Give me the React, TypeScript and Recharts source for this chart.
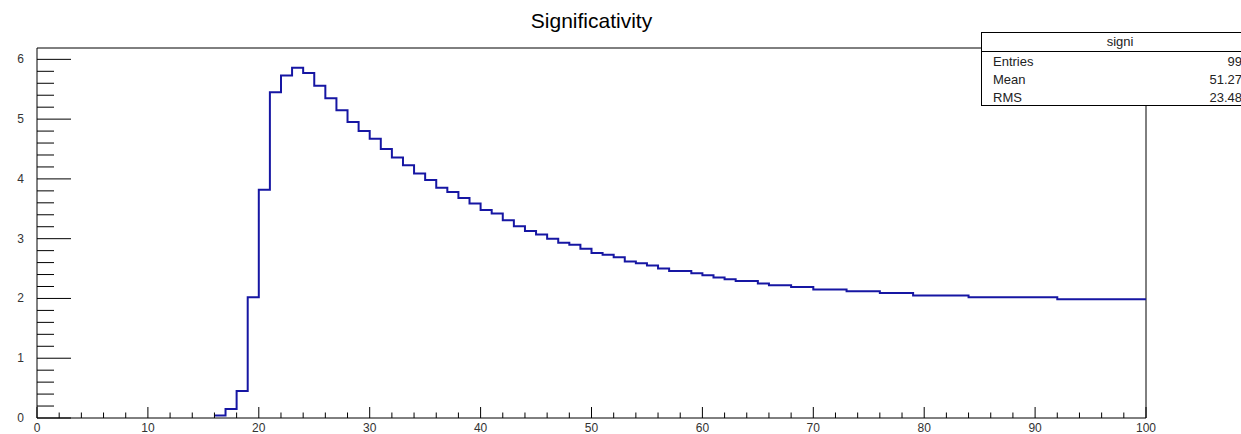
import React from "react";
import { LineChart, Line, XAxis, YAxis, ReferenceLine } from "recharts";

// histogram bins of width 1; only bins from 16 on are non-empty
const firstBin = 16;
const binValues = [
  0.04, 0.15, 0.45, 2.02, 3.82, 5.45, 5.73, 5.86, 5.77, 5.56, // 16-25
  5.35, 5.15, 4.95, 4.8, 4.67, 4.5, 4.36, 4.23, 4.09, 3.98, // 26-35
  3.85, 3.78, 3.68, 3.59, 3.48, 3.42, 3.31, 3.21, 3.13, 3.07, // 36-45
  3.0, 2.93, 2.9, 2.83, 2.76, 2.73, 2.69, 2.62, 2.59, 2.55, // 46-55
  2.5, 2.46, 2.46, 2.42, 2.39, 2.35, 2.32, 2.29, 2.29, 2.25, // 56-65
  2.22, 2.22, 2.19, 2.19, 2.15, 2.15, 2.15, 2.12, 2.12, 2.12, // 66-75
  2.09, 2.09, 2.09, 2.05, 2.05, 2.05, 2.05, 2.05, 2.02, 2.02, // 76-85
  2.02, 2.02, 2.02, 2.02, 2.02, 2.02, 1.985, 1.985, 1.985, 1.985, // 86-95
  1.985, 1.985, 1.985, 1.985, // 96-99
];

const xTicks = [
  0, 2, 4, 6, 8, 10, 12, 14, 16, 18, 20, 22, 24, 26, 28, 30, 32, 34, 36, 38, 40,
  42, 44, 46, 48, 50, 52, 54, 56, 58, 60, 62, 64, 66, 68, 70, 72, 74, 76, 78, 80,
  82, 84, 86, 88, 90, 92, 94, 96, 98, 100,
];
const yTicks = [
  0, 0.2, 0.4, 0.6, 0.8, 1, 1.2, 1.4, 1.6, 1.8, 2, 2.2, 2.4, 2.6, 2.8, 3, 3.2,
  3.4, 3.6, 3.8, 4, 4.2, 4.4, 4.6, 4.8, 5, 5.2, 5.4, 5.6, 5.8, 6,
];
const yMax = 6.19;

const stats = [
  { label: "Entries", value: "99" },
  { label: "Mean", value: "51.27" },
  { label: "RMS", value: "23.48" },
];

// step line: each point sits on a bin's low edge, plus a closing point at x=100
const histData = binValues.map((v, i) => ({ x: firstBin + i, y: v }));
histData.push({ x: firstBin + binValues.length, y: binValues[binValues.length - 1] });

const isMajor = (v: number, step: number) => Math.abs(v / step - Math.round(v / step)) < 1e-6;

const XTick = (props: any) => {
  const { x, y, payload } = props;
  const major = isMajor(payload.value, 10);
  return (
    <g>
      <line x1={x} y1={y} x2={x} y2={y - (major ? 11 : 5.5)} stroke="#000" strokeWidth={1} />
      {major && (
        <text x={x} y={y + 14} textAnchor="middle" fontSize={12} fill="#333">
          {payload.value}
        </text>
      )}
    </g>
  );
};

const YTick = (props: any) => {
  const { x, y, payload } = props;
  const major = isMajor(payload.value, 1);
  return (
    <g>
      <line x1={x} y1={y} x2={x + (major ? 34 : 17)} y2={y} stroke="#000" strokeWidth={1} />
      {major && (
        <text x={x - 13} y={y + 4} textAnchor="end" fontSize={12} fill="#333">
          {payload.value}
        </text>
      )}
    </g>
  );
};

export default function App() {
  return (
    <div
      style={{
        position: "absolute",
        left: 0,
        top: 0,
        width: 1241,
        height: 434,
        overflow: "hidden",
        background: "#fff",
        fontFamily: "'Liberation Sans', Arial, sans-serif",
      }}
    >
      <LineChart
        width={1241}
        height={434}
        data={histData}
        margin={{ top: 48, right: 95, bottom: 0, left: 0 }}
        style={{ fontFamily: "'Liberation Sans', Arial, sans-serif" }}
      >
        <XAxis
          type="number"
          dataKey="x"
          domain={[0, 100]}
          ticks={xTicks}
          interval={0}
          height={16}
          tickSize={0}
          tickMargin={0}
          tickLine={false}
          axisLine={{ stroke: "#000", strokeWidth: 1 }}
          tick={<XTick />}
        />
        <YAxis
          type="number"
          domain={[0, yMax]}
          allowDataOverflow
          ticks={yTicks}
          interval={0}
          width={37}
          tickSize={0}
          tickMargin={0}
          tickLine={false}
          axisLine={{ stroke: "#000", strokeWidth: 1 }}
          tick={<YTick />}
        />
        <ReferenceLine y={yMax} stroke="#000" strokeWidth={1} />
        <ReferenceLine x={100} stroke="#000" strokeWidth={1} />
        <Line
          type="stepAfter"
          dataKey="y"
          stroke="#1616a3"
          strokeWidth={2}
          dot={false}
          isAnimationActive={false}
        />
      </LineChart>

      <div
        style={{
          position: "absolute",
          left: 0,
          top: 10,
          width: 1183,
          textAlign: "center",
          fontSize: 21,
          lineHeight: "21px",
          color: "#000",
        }}
      >
        Significativity
      </div>

      <div
        style={{
          position: "absolute",
          left: 981,
          top: 32,
          width: 278,
          height: 74,
          border: "1px solid #000",
          background: "#fff",
          boxSizing: "border-box",
          fontSize: 13,
          color: "#222",
        }}
      >
        <div
          style={{
            height: 18,
            borderBottom: "1px solid #000",
            textAlign: "center",
            lineHeight: "18px",
          }}
        >
          signi
        </div>
        {stats.map((s, i) => (
          <div
            key={s.label}
            style={{
              position: "absolute",
              left: 11,
              top: 21 + i * 18,
              width: 260 - 11,
              height: 16,
              lineHeight: "16px",
            }}
          >
            <span>{s.label}</span>
            <span style={{ position: "absolute", right: 0 }}>{s.value}</span>
          </div>
        ))}
      </div>
    </div>
  );
}
